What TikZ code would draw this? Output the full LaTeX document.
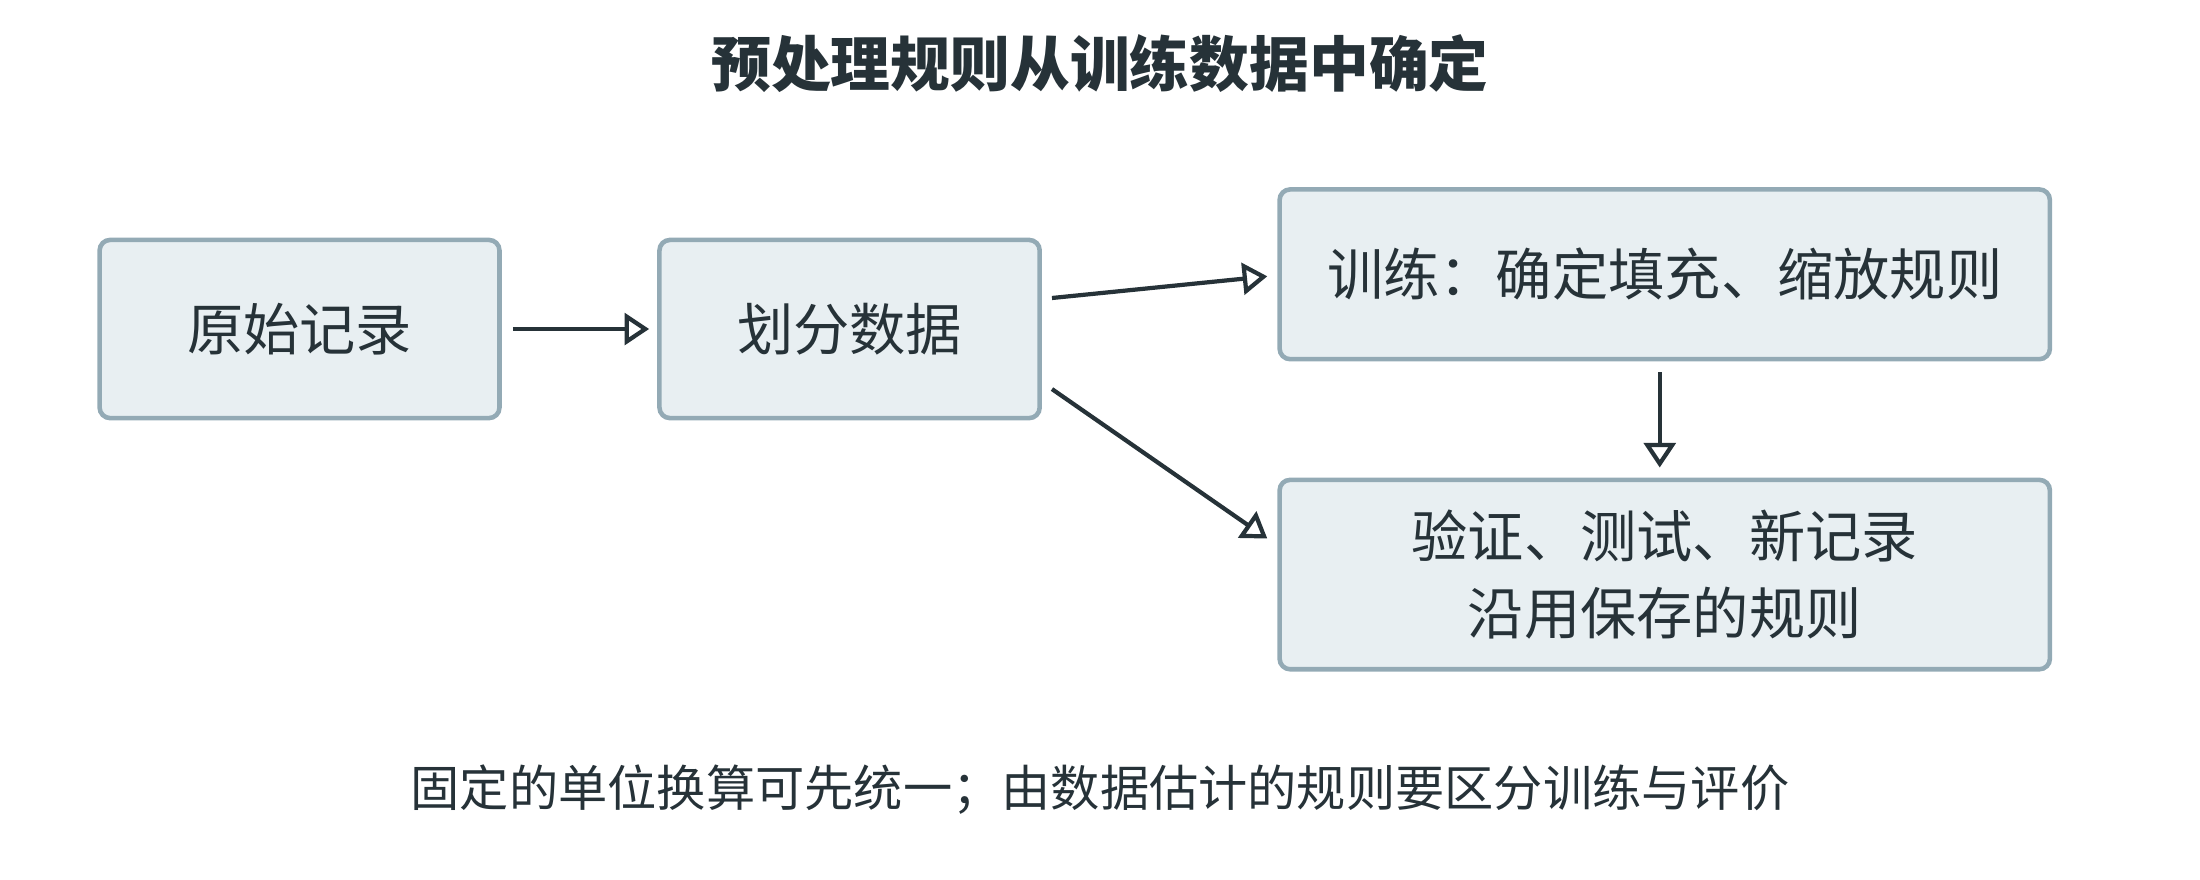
\documentclass[tikz,border=0pt]{standalone}
\usepackage{fontspec}
\setmainfont{Noto Sans CJK SC}
\usetikzlibrary{arrows.meta, positioning, calc}
\definecolor{boxfill}{HTML}{E8EFF2}
\definecolor{boxline}{HTML}{93AAB5}
\definecolor{inkdark}{HTML}{263238}

\begin{document}
\begin{tikzpicture}[x=0.01403cm, y=-0.01403cm,
  stage/.style={draw=boxline, line width=1.3pt, fill=boxfill, rounded corners=3pt,
    text=inkdark, font=\fontsize{16}{22}\selectfont, align=center, inner sep=0pt},
  flow/.style={-{Stealth[open, length=7pt, width=9pt, inset=0pt]}, draw=inkdark, line width=1.2pt}]
  % frame
  \useasboundingbox (0,0) rectangle (1568,627);

  % Title
  \node[font=\fontsize{17}{20}\selectfont\bfseries, text=inkdark] (title) at (784,45) {预处理规则从训练数据中确定};

  % Stages
  \node[stage, minimum width=285*0.01403cm, minimum height=127*0.01403cm] (raw) at (213.5,234.5) {原始记录};
  \node[stage, minimum width=271*0.01403cm, minimum height=127*0.01403cm] (split) at (605.5,234.5) {划分数据};
  \node[stage, minimum width=549*0.01403cm, minimum height=121*0.01403cm] (train) at (1186.5,195.5) {训练：确定填充、缩放规则};
  \node[stage, minimum width=549*0.01403cm, minimum height=135*0.01403cm] (reuse) at (1186.5,409.5) {验证、测试、新记录\\沿用保存的规则};

  % Connectors
  \draw[flow] ([xshift=0.11cm]raw.east) -- ([xshift=-0.08cm]split.west);
  \draw[flow] ([xshift=0.1cm, yshift=0.31cm]split.east) -- ([xshift=-0.1cm, yshift=-0.02cm]train.west);
  \draw[flow] ([xshift=0.1cm, yshift=-0.6cm]split.east) -- ([xshift=-0.1cm, yshift=0.36cm]reuse.west);
  \draw[flow] ([yshift=-0.11cm, xshift=-0.05cm]train.south) -- ([yshift=0.1cm, xshift=-0.05cm]reuse.north);

  % Note
  \node[font=\fontsize{14}{18}\selectfont, text=inkdark] (note) at (784,563) {固定的单位换算可先统一；由数据估计的规则要区分训练与评价};
\end{tikzpicture}
\end{document}
